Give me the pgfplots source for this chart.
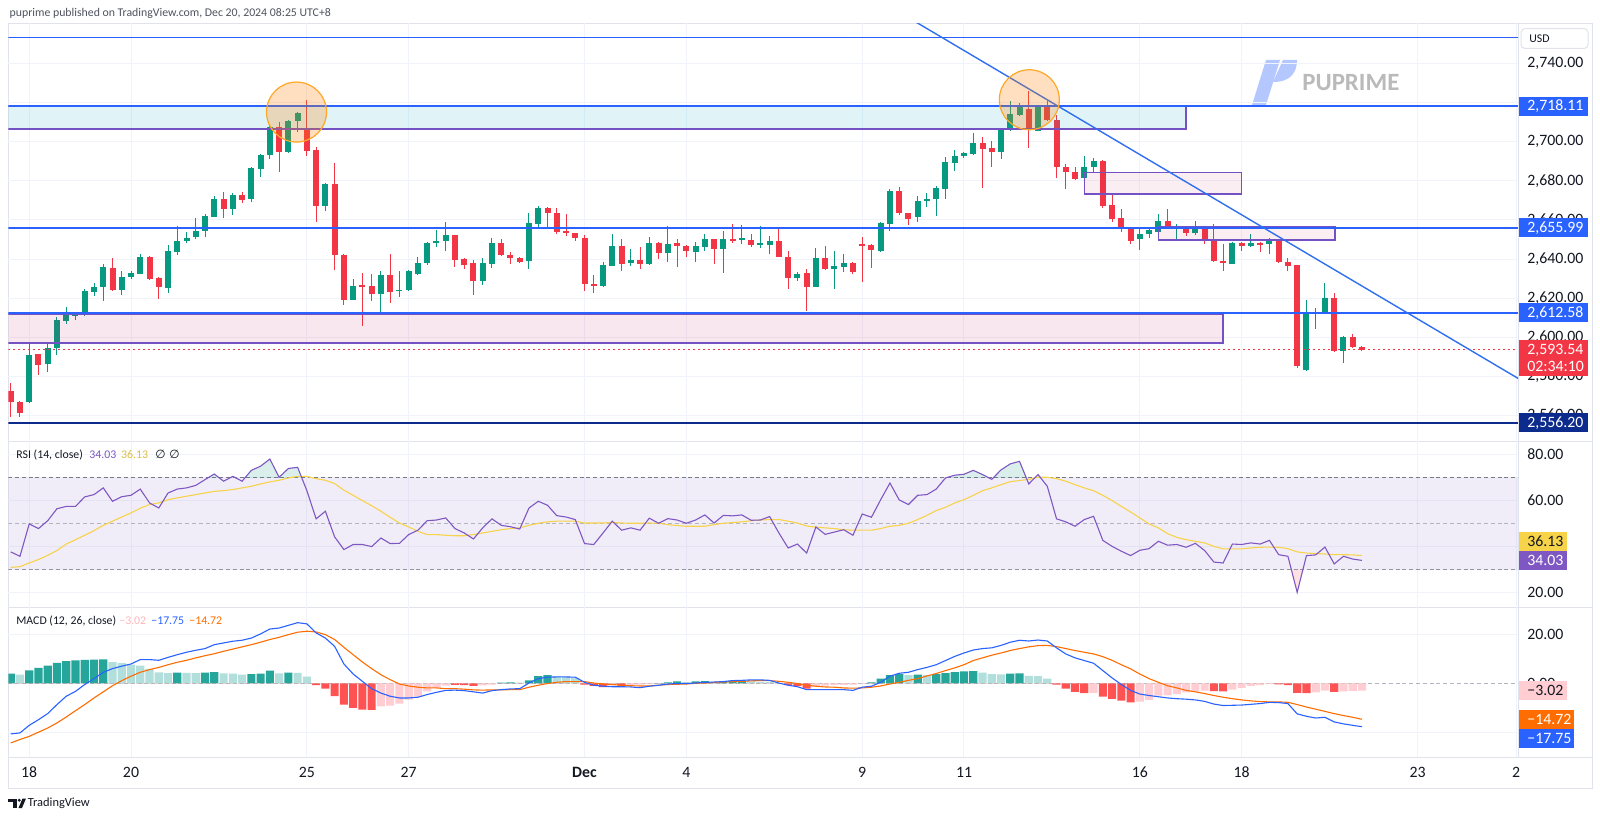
\documentclass[border=0pt]{standalone}
\usepackage{pgfplots}
\pgfplotsset{compat=1.18}
\usepackage{pgfplotstable}
\usepackage{fontspec}
\setmainfont{Carlito}
\newfontfamily\djv{DejaVu Sans}
\definecolor{upc}{HTML}{089981}
\definecolor{dnc}{HTML}{F23645}
\definecolor{hblue}{HTML}{2962FF}
\definecolor{tblue}{HTML}{2F6FF0}
\definecolor{purp}{HTML}{7552C4}
\definecolor{cyanc}{HTML}{00ACC1}
\definecolor{pinkc}{HTML}{C2185B}
\definecolor{navy}{HTML}{0D2B8C}
\definecolor{gridc}{HTML}{F0F3FA}
\definecolor{sepc}{HTML}{E0E3EB}
\definecolor{rsic}{HTML}{7E57C2}
\definecolor{rsima}{HTML}{F7D34A}
\definecolor{macdc}{HTML}{2962FF}
\definecolor{sigc}{HTML}{FF6D00}
\definecolor{hdark}{HTML}{26A69A}
\definecolor{hlight}{HTML}{B2DFDB}
\definecolor{hred}{HTML}{FF5252}
\definecolor{hpink}{HTML}{FFCDD2}
\definecolor{txt}{HTML}{131722}
\definecolor{txtg}{HTML}{50535E}
\definecolor{dash1}{HTML}{787B86}
\definecolor{dash2}{HTML}{B2B5BE}
\definecolor{orc}{HTML}{FFA726}
\newcommand\fA{\fontsize{7.9pt}{9pt}\selectfont}
\newcommand\fB{\fontsize{5.9pt}{7pt}\selectfont}

\pgfplotstableread{
i o h l c
1 2572.5 2576.4 2559.4 2567.0
2 2567.0 2567.5 2559.4 2561.4
3 2567.0 2596.9 2566.5 2591.2
4 2591.2 2591.5 2580.7 2586.0
5 2586.3 2596.9 2582.0 2594.3
6 2594.3 2610.5 2590.9 2608.8
7 2608.5 2615.6 2606.6 2612.2
8 2611.4 2612.2 2608.8 2611.9
9 2611.7 2624.5 2611.0 2623.6
10 2623.3 2627.6 2621.3 2625.5
11 2625.9 2637.5 2618.7 2635.7
12 2635.7 2640.4 2623.8 2624.2
13 2624.2 2634.0 2621.6 2631.0
14 2630.6 2634.0 2629.8 2632.7
15 2632.5 2642.6 2632.3 2641.2
16 2641.2 2641.7 2629.3 2629.8
17 2630.1 2630.6 2619.5 2625.5
18 2625.3 2647.2 2622.4 2643.9
19 2643.8 2657.1 2642.1 2649.2
20 2649.2 2653.8 2648.4 2650.6
21 2651.4 2660.8 2650.1 2654.5
22 2654.5 2663.0 2651.4 2662.3
23 2661.7 2672.4 2661.3 2670.7
24 2670.7 2674.5 2661.2 2665.8
25 2665.8 2673.9 2662.5 2672.9
26 2672.7 2674.1 2668.8 2670.2
27 2670.5 2686.9 2669.3 2686.4
28 2686.2 2693.7 2682.1 2693.4
29 2693.2 2708.5 2691.0 2707.7
30 2707.7 2710.3 2684.7 2694.9
31 2694.6 2711.1 2694.1 2710.8
32 2710.8 2715.4 2705.1 2714.5
33 2706.3 2721.3 2692.7 2695.4
34 2695.8 2697.1 2658.8 2667.3
35 2667.3 2678.7 2664.7 2678.4
36 2678.4 2688.9 2634.4 2642.1
37 2642.1 2642.4 2616.5 2619.0
38 2619.0 2629.8 2619.0 2626.2
39 2626.9 2633.0 2605.7 2625.7
40 2626.2 2632.3 2618.5 2622.1
41 2622.1 2633.9 2611.4 2631.8
42 2631.8 2642.6 2617.3 2623.3
43 2623.8 2633.9 2620.4 2624.3
44 2624.2 2634.4 2623.6 2633.9
45 2632.2 2641.2 2631.8 2638.1
46 2637.8 2648.9 2637.0 2648.4
47 2648.4 2654.8 2646.3 2649.2
48 2649.2 2659.1 2644.3 2652.1
49 2652.1 2652.5 2636.1 2639.5
50 2639.8 2640.4 2634.7 2636.8
51 2637.8 2639.5 2621.6 2628.8
52 2628.9 2640.4 2626.7 2637.8
53 2637.5 2650.6 2635.7 2648.4
54 2648.4 2650.1 2641.6 2642.1
55 2642.1 2643.8 2637.5 2640.7
56 2640.7 2641.0 2638.2 2638.5
57 2639.2 2663.4 2634.7 2658.3
58 2657.9 2667.3 2655.7 2666.3
59 2666.3 2666.8 2655.7 2663.4
60 2663.4 2665.9 2652.8 2654.0
61 2654.2 2663.0 2651.9 2653.1
62 2653.1 2653.6 2649.4 2650.9
63 2650.9 2652.3 2623.6 2627.2
64 2627.4 2631.8 2622.8 2626.4
65 2626.2 2638.6 2625.9 2636.8
66 2636.6 2652.6 2636.4 2646.7
67 2646.7 2650.2 2634.0 2637.6
68 2638.1 2645.0 2636.6 2639.5
69 2639.5 2646.0 2634.7 2637.5
70 2637.5 2651.1 2637.0 2648.0
71 2648.0 2648.9 2640.0 2643.3
72 2643.3 2657.1 2638.6 2647.7
73 2648.0 2650.1 2636.1 2646.7
74 2646.7 2647.2 2641.2 2644.1
75 2643.8 2648.9 2638.6 2646.7
76 2646.3 2652.6 2644.3 2650.2
77 2650.2 2650.4 2637.5 2645.1
78 2645.1 2654.3 2633.0 2650.2
79 2650.2 2657.7 2648.4 2649.7
80 2649.6 2657.4 2647.9 2650.6
81 2649.7 2652.6 2646.3 2647.2
82 2647.7 2657.1 2645.5 2647.9
83 2647.2 2651.8 2642.6 2649.2
84 2649.2 2655.2 2640.9 2641.2
85 2640.9 2644.1 2624.5 2630.5
86 2630.5 2633.5 2628.9 2632.2
87 2632.7 2634.7 2613.6 2625.9
88 2625.9 2645.5 2625.5 2640.4
89 2640.4 2646.7 2634.4 2634.9
90 2634.9 2644.3 2624.8 2636.4
91 2636.1 2642.6 2633.5 2638.1
92 2638.1 2638.6 2632.3 2633.5
93 2647.5 2651.1 2628.4 2647.0
94 2647.0 2647.5 2635.7 2644.6
95 2644.1 2659.1 2643.8 2658.3
96 2657.9 2675.6 2654.5 2674.8
97 2674.8 2677.0 2662.5 2663.4
98 2663.4 2663.5 2657.4 2660.5
99 2661.7 2672.2 2658.8 2669.8
100 2669.8 2673.9 2666.4 2670.7
101 2670.5 2677.4 2662.0 2676.2
102 2676.0 2692.0 2670.5 2689.5
103 2688.9 2695.8 2685.0 2692.9
104 2692.9 2694.6 2691.5 2694.4
105 2693.7 2704.6 2693.5 2699.2
106 2699.2 2702.6 2676.5 2696.4
107 2696.9 2700.4 2686.9 2694.7
108 2694.7 2706.5 2691.0 2706.0
109 2706.0 2720.8 2705.7 2714.0
110 2713.7 2719.6 2713.2 2717.9
111 2716.6 2725.9 2697.0 2706.0
112 2705.7 2718.3 2705.5 2717.9
113 2717.9 2720.8 2710.6 2711.1
114 2711.1 2713.7 2681.6 2687.2
115 2686.9 2688.4 2675.8 2684.3
116 2684.3 2686.9 2680.4 2680.9
117 2681.3 2692.9 2681.3 2687.2
118 2687.2 2691.5 2684.7 2690.1
119 2690.1 2690.6 2666.3 2667.3
120 2667.6 2672.7 2658.8 2660.5
121 2660.8 2665.4 2654.0 2655.2
122 2655.2 2656.0 2647.5 2649.4
123 2650.2 2656.5 2644.6 2652.8
124 2652.8 2656.5 2650.9 2654.8
125 2654.0 2662.9 2654.0 2659.4
126 2659.4 2665.4 2655.2 2655.7
127 2655.7 2657.7 2649.2 2656.0
128 2656.2 2656.5 2651.9 2653.1
129 2653.1 2659.4 2652.3 2656.2
130 2656.5 2657.1 2647.7 2650.2
131 2649.7 2657.9 2638.6 2639.0
132 2639.0 2647.5 2634.0 2637.8
133 2637.5 2648.9 2637.3 2648.0
134 2648.0 2648.5 2644.3 2646.8
135 2646.8 2652.6 2646.0 2648.4
136 2648.4 2648.9 2643.4 2647.5
137 2647.5 2650.6 2642.6 2649.4
138 2649.7 2650.2 2637.8 2638.3
139 2638.6 2640.7 2634.0 2636.6
140 2636.9 2637.0 2584.1 2585.4
141 2583.2 2619.0 2582.9 2613.1
142 2612.6 2614.8 2604.0 2613.1
143 2613.1 2627.6 2612.9 2620.2
144 2620.2 2622.4 2592.3 2593.0
145 2593.0 2600.6 2587.0 2600.3
146 2600.3 2601.5 2594.3 2594.8
147 2594.8 2595.3 2592.8 2593.5
}\candles

\pgfplotstableread{
i r ma m s h k
1 37.7 31.0 -20.7 -24.4 4.0 1
2 35.8 31.3 -20.3 -23.0 3.5 2
3 49.8 32.9 -17.2 -21.7 5.3 1
4 47.8 34.4 -14.9 -20.0 6.3 1
5 51.2 36.2 -12.4 -18.3 7.2 1
6 56.4 38.3 -8.7 -16.2 8.3 1
7 57.4 41.1 -5.3 -13.8 9.1 1
8 57.4 43.0 -3.3 -11.2 9.4 1
9 61.5 44.9 -0.5 -8.7 9.6 1
10 62.5 46.9 1.9 -6.0 9.7 1
11 65.4 49.2 4.5 -3.5 9.8 1
12 59.6 51.0 6.0 -1.0 8.7 2
13 61.6 52.8 7.0 1.1 8.2 2
14 62.2 54.6 7.9 2.9 7.6 2
15 64.9 56.6 9.7 4.5 7.2 2
16 58.9 58.2 9.7 5.6 5.9 2
17 56.7 58.9 9.4 6.5 4.5 2
18 63.2 60.3 10.6 7.6 4.2 2
19 64.9 61.1 11.7 8.6 4.4 1
20 65.4 61.8 12.7 9.4 4.3 2
21 66.5 62.5 13.5 10.4 4.2 2
22 69.0 63.2 14.2 11.3 4.4 1
23 71.4 63.9 15.8 12.1 4.6 1
24 68.3 64.2 16.5 13.1 4.1 2
25 70.4 64.7 17.2 14.0 4.0 2
26 68.3 65.4 17.6 14.9 3.5 2
27 73.0 66.1 18.5 15.8 3.7 1
28 74.8 67.1 20.2 16.8 4.0 1
29 77.9 68.0 22.2 17.9 5.2 1
30 70.0 68.7 22.6 18.8 4.1 2
31 73.8 69.7 23.7 19.9 4.4 1
32 74.3 70.4 24.8 20.9 4.3 2
33 64.2 70.4 24.3 21.3 2.7 2
34 52.0 69.4 20.6 21.0 -0.8 3
35 55.3 68.7 18.5 19.9 -2.2 3
36 44.2 67.3 15.1 17.9 -5.3 3
37 38.7 64.4 7.9 14.7 -8.7 3
38 40.9 62.2 3.8 11.7 -10.1 3
39 40.9 59.9 0.8 8.7 -10.8 3
40 40.0 57.7 -2.2 6.0 -10.9 3
41 43.7 55.3 -4.0 3.5 -9.4 4
42 41.3 52.7 -5.3 1.5 -9.1 4
43 41.4 50.2 -6.0 -0.3 -8.3 4
44 45.2 48.5 -6.0 -1.1 -6.7 4
45 47.1 46.6 -5.7 -1.6 -5.5 4
46 51.2 45.2 -4.6 -1.9 -3.3 4
47 51.5 45.2 -3.7 -1.9 -1.9 4
48 52.4 44.9 -2.9 -2.2 -1.0 4
49 47.8 44.7 -2.8 -2.2 -0.6 3
50 45.9 44.7 -3.0 -2.4 -0.8 3
51 43.3 45.2 -3.5 -2.7 -1.1 3
52 48.1 45.9 -4.0 -2.8 -0.9 4
53 52.0 46.6 -3.0 -2.7 -0.5 4
54 49.2 47.3 -2.6 -2.7 0.3 1
55 48.6 47.8 -2.3 -2.6 0.4 1
56 47.6 48.1 -2.2 -2.6 0.3 2
57 56.7 49.2 0.1 -1.6 1.2 1
58 59.6 50.1 1.9 -0.8 2.9 1
59 57.9 50.7 2.5 -0.1 3.3 1
60 53.4 51.0 2.6 0.4 2.7 2
61 52.8 51.0 2.6 0.7 2.6 2
62 51.7 51.0 2.5 0.7 2.2 2
63 41.3 50.2 0.4 0.7 -0.5 3
64 40.9 50.2 -0.8 0.1 -1.1 3
65 45.9 50.2 -1.2 -0.3 -1.6 3
66 51.0 50.5 -1.4 -0.5 -0.9 4
67 47.1 50.2 -1.4 -0.8 -1.2 3
68 48.1 50.1 -1.5 -1.0 -0.7 4
69 47.1 50.1 -1.8 -1.1 -0.5 4
70 52.3 50.2 -1.2 -1.1 -0.3 4
71 50.1 50.1 -0.8 -0.8 0.1 1
72 52.1 49.5 -0.3 -0.5 0.4 1
73 51.5 49.1 -0.1 -0.4 0.8 1
74 50.1 48.8 -0.1 -0.3 0.5 2
75 51.5 48.8 0.1 0.0 0.8 1
76 53.7 48.8 0.4 0.1 0.9 1
77 50.2 49.5 0.5 0.4 0.6 2
78 53.5 50.1 0.7 0.5 0.9 1
79 53.3 50.4 1.1 0.7 1.0 1
80 53.7 50.7 1.2 0.8 1.1 1
81 51.4 51.2 1.4 1.0 0.8 2
82 51.5 51.5 1.4 1.1 0.6 2
83 53.0 51.7 1.2 1.1 0.5 2
84 45.9 51.7 0.1 0.8 0.1 2
85 39.4 51.0 -0.8 0.4 -0.8 3
86 41.1 50.2 -1.4 -0.1 -1.2 3
87 37.2 48.9 -2.6 -0.8 -2.2 3
88 48.5 48.4 -2.6 -1.2 -1.4 4
89 45.3 48.1 -2.6 -1.5 -1.0 4
90 46.3 47.8 -2.6 -1.6 -0.8 4
91 47.3 47.3 -2.6 -1.9 -0.6 4
92 44.9 47.1 -2.9 -2.0 -0.5 4
93 54.1 47.1 -1.6 -1.9 -0.1 4
94 52.7 47.1 -1.2 -1.6 0.4 1
95 60.3 47.8 0.4 -1.1 1.9 1
96 67.5 48.8 2.9 -0.3 3.3 1
97 60.2 49.2 4.1 0.4 3.8 1
98 58.2 50.1 4.5 1.2 3.3 2
99 62.2 51.7 5.6 1.9 3.5 1
100 62.5 53.5 6.5 3.0 3.3 2
101 64.9 55.6 7.6 4.0 3.7 1
102 69.7 57.0 9.3 5.2 4.2 1
103 70.9 58.9 11.0 6.3 4.6 1
104 71.3 60.3 12.4 7.6 4.9 1
105 73.0 62.2 13.6 9.3 5.0 1
106 71.2 64.2 14.2 10.4 4.4 2
107 69.1 65.4 14.5 11.5 3.7 2
108 73.2 66.8 15.5 12.4 3.6 2
109 75.8 68.1 16.8 13.4 4.0 1
110 76.9 68.6 17.6 14.2 4.1 1
111 67.1 69.1 17.3 14.9 3.0 2
112 71.2 70.0 17.7 15.4 2.9 2
113 66.1 70.0 17.3 15.5 1.9 2
114 52.0 69.4 14.5 15.0 -0.5 3
115 50.7 68.3 12.0 14.2 -2.2 3
116 48.8 66.8 10.4 13.4 -3.5 3
117 51.7 65.4 9.3 12.7 -4.0 3
118 53.1 64.2 8.2 12.0 -3.9 4
119 42.7 62.2 5.2 10.9 -5.5 3
120 40.1 59.9 2.2 9.4 -6.4 3
121 38.0 57.4 -0.5 7.6 -7.1 3
122 36.1 55.0 -2.9 5.9 -7.8 3
123 38.4 52.4 -4.4 3.8 -7.5 4
124 39.1 49.8 -5.0 1.9 -6.8 4
125 42.3 48.1 -5.5 0.4 -5.0 4
126 40.6 45.6 -6.0 -1.0 -4.9 4
127 40.9 44.0 -6.3 -1.9 -4.4 4
128 39.7 43.0 -6.5 -2.9 -3.7 4
129 41.4 42.3 -6.8 -3.5 -3.3 4
130 38.3 41.6 -7.4 -4.2 -3.0 4
131 33.3 40.1 -8.5 -5.0 -3.2 3
132 32.9 39.0 -9.1 -5.7 -3.3 3
133 41.1 39.0 -9.0 -6.3 -2.6 4
134 40.9 39.0 -8.9 -6.8 -1.9 4
135 41.6 39.4 -8.6 -7.2 -1.1 4
136 41.1 39.7 -8.3 -7.5 -0.8 4
137 42.7 39.8 -7.8 -7.6 -0.3 4
138 36.5 39.7 -7.9 -7.6 -0.4 3
139 35.8 39.1 -8.3 -7.8 -0.7 3
140 20.2 37.7 -12.5 -8.7 -3.9 3
141 36.1 37.2 -13.5 -9.7 -4.0 3
142 36.4 37.0 -14.2 -10.6 -3.7 4
143 39.8 36.8 -13.9 -11.5 -3.0 4
144 32.5 36.5 -15.8 -12.4 -3.5 3
145 35.8 36.5 -16.6 -13.2 -3.3 4
146 34.6 36.4 -17.2 -13.9 -3.1 4
147 34.03 36.13 -17.75 -14.72 -3.02 4
}\ind

\pgfplotsset{
  tvpane/.style={
    scale only axis, width=754.85pt, anchor=south west,
    xmin=0.74, xmax=163.86,
    axis line style={draw=none},
    major tick length=0pt, tick style={draw=none},
    xticklabels={}, yticklabels={},
    xtick={3,14,33,44,63,74,93,104,123,134,153,163.65},
    grid=major, major grid style={draw=gridc, line width=0.5pt},
  },
  candle/.style={only marks, mark=*, mark size=0pt, mark options={draw=none, fill=none}, forget plot,
    error bars/.cd, y dir=both, y explicit, error mark=none},
}

\begin{document}
\begin{tikzpicture}
\path[use as bounding box] (0,0) rectangle (800pt,409.5pt);
\fill[white] (0,0) rectangle (800pt,409.5pt);

\begin{scope}[x=0.5pt,y=-0.5pt,shift={(0pt,409.5pt)}]
  \draw[sepc, line width=0.5pt] (8.3,23.3) rectangle (1592,788);
  \draw[sepc, line width=0.5pt] (8.3,441.3) -- (1592,441.3);
  \draw[sepc, line width=0.5pt] (8.3,607.3) -- (1592,607.3);
  \draw[sepc, line width=0.5pt] (8.3,757) -- (1592,757);
  \draw[sepc, line width=0.5pt] (1518,23.3) -- (1518,757);
  % watermark
  \fill[hblue!35] (1252,105) -- (1266,105) -- (1280,60) -- (1266,60) -- cycle;
  \fill[hblue!35] (1283,60) -- (1297,60) .. controls (1297,72) and (1291,82) .. (1273,82) -- cycle;
  \node[anchor=west, inner sep=0pt, font=\bfseries\fontsize{12.4pt}{14pt}\selectfont, text=black!27] at (1302,83) {PUPRIME};
\end{scope}

% ---------------- price pane
\begin{axis}[tvpane, at={(4.15pt,188.85pt)}, height=209pt,
  ymin=2546.8, ymax=2760.6, ytick={2560,2580,...,2740}]
  \addplot[candle, error bar style={draw=upc, line width=0.5pt}]
    table[x=i, y expr={(\thisrow{h}+\thisrow{l})/2},
      y error expr={(\thisrow{c}>=\thisrow{o}) ? (\thisrow{h}-\thisrow{l})/2 : 0}]{\candles};
  \addplot[candle, error bar style={draw=dnc, line width=0.5pt}]
    table[x=i, y expr={(\thisrow{h}+\thisrow{l})/2},
      y error expr={(\thisrow{c}<\thisrow{o}) ? (\thisrow{h}-\thisrow{l})/2 : 0}]{\candles};
  \addplot[candle, error bar style={draw=upc, line width=3pt}]
    table[x=i, y expr={(\thisrow{o}+\thisrow{c})/2},
      y error expr={(\thisrow{c}>=\thisrow{o}) ? max(abs(\thisrow{c}-\thisrow{o})/2,0.3) : 0}]{\candles};
  \addplot[candle, error bar style={draw=dnc, line width=3pt}]
    table[x=i, y expr={(\thisrow{o}+\thisrow{c})/2},
      y error expr={(\thisrow{c}<\thisrow{o}) ? max(abs(\thisrow{c}-\thisrow{o})/2,0.3) : 0}]{\candles};
  % boxes
  \fill[cyanc, fill opacity=0.12] (axis cs:0.74,2706.5) rectangle (axis cs:128,2718.1);
  \draw[purp, line width=0.75pt] (axis cs:0.74,2718.1) -- (axis cs:128,2718.1) -- (axis cs:128,2706.5) -- (axis cs:0.74,2706.5);
  \fill[pinkc, fill opacity=0.10] (axis cs:0.74,2597.2) rectangle (axis cs:132,2611.9);
  \draw[purp, line width=0.75pt] (axis cs:0.74,2611.9) -- (axis cs:132,2611.9) -- (axis cs:132,2597.2) -- (axis cs:0.74,2597.2);
  \draw[purp, line width=0.75pt, fill=pinkc, fill opacity=0.07] (axis cs:117,2673.4) rectangle (axis cs:134,2684.4);
  \draw[purp, line width=0.75pt, fill=pinkc, fill opacity=0.07] (axis cs:125,2649.8) rectangle (axis cs:144.1,2656.4);
  % horizontal lines
  \draw[dnc, line width=0.5pt, dash pattern=on 1pt off 1.5pt] (axis cs:0.74,2593.54) -- (axis cs:163.86,2593.54);
  \draw[hblue, line width=0.8pt] (axis cs:0.74,2753.4) -- (axis cs:163.86,2753.4);
  \draw[hblue, line width=0.9pt] (axis cs:0.74,2718.11) -- (axis cs:163.86,2718.11);
  \draw[hblue, line width=0.9pt] (axis cs:0.74,2655.99) -- (axis cs:163.86,2655.99);
  \draw[hblue, line width=0.9pt] (axis cs:0.74,2612.58) -- (axis cs:163.86,2612.58);
  \draw[navy, line width=0.9pt] (axis cs:0.74,2556.2) -- (axis cs:163.86,2556.2);
  % trend line
  \draw[tblue, line width=0.7pt] (axis cs:90,2785.9) -- (axis cs:165,2575.8);
  % circles
  \draw[orc, line width=0.6pt, fill=orange, fill opacity=0.25] (axis cs:31.88,2715.2) circle[radius=15pt];
  \draw[orc, line width=0.6pt, fill=orange, fill opacity=0.25] (axis cs:111.06,2721.5) circle[radius=15pt];
\end{axis}

% ---------------- RSI pane
\begin{axis}[tvpane, at={(4.15pt,105.85pt)}, height=83pt,
  ymin=13.72, ymax=85.58, ytick={20,40,60,80}]
  \fill[rsic, fill opacity=0.1] (axis cs:0.74,30) rectangle (axis cs:163.86,70);
  \draw[dash1, line width=0.5pt, dash pattern=on 2pt off 1.4pt] (axis cs:0.74,70) -- (axis cs:163.86,70);
  \draw[dash2, line width=0.5pt, dash pattern=on 2pt off 1.4pt] (axis cs:0.74,50) -- (axis cs:163.86,50);
  \draw[dash1!80, line width=0.5pt, dash pattern=on 2pt off 1.4pt] (axis cs:0.74,30) -- (axis cs:163.86,30);
  \begin{scope}
    \clip (axis cs:0.74,70) rectangle (axis cs:163.86,90);
    \addplot[fill=upc, fill opacity=0.15, draw=none, forget plot] table[x=i,y=r]{\ind} \closedcycle;
  \end{scope}
  \addplot[fill=dnc, fill opacity=0.15, draw=none, forget plot] coordinates {(139.37,30) (140,20.2) (140.62,30)};
  \addplot[rsima, line width=0.55pt, forget plot] table[x=i,y=ma]{\ind};
  \addplot[rsic, line width=0.55pt, forget plot] table[x=i,y=r]{\ind};
\end{axis}

% ---------------- MACD pane
\begin{axis}[tvpane, at={(4.15pt,31pt)}, height=74.85pt,
  ymin=-30.15, ymax=31.08, ytick={-20,20}]
  \draw[dash2, line width=0.5pt, dash pattern=on 2pt off 1.4pt] (axis cs:0.74,0) -- (axis cs:163.86,0);
  \addplot[ybar, bar width=0.88, bar shift=0pt, draw=none, fill=hdark, forget plot]
    table[x=i, y expr={(\thisrow{k}==1) ? \thisrow{h} : 0}]{\ind};
  \addplot[ybar, bar width=0.88, bar shift=0pt, draw=none, fill=hlight, forget plot]
    table[x=i, y expr={(\thisrow{k}==2) ? \thisrow{h} : 0}]{\ind};
  \addplot[ybar, bar width=0.88, bar shift=0pt, draw=none, fill=hred, forget plot]
    table[x=i, y expr={(\thisrow{k}==3) ? \thisrow{h} : 0}]{\ind};
  \addplot[ybar, bar width=0.88, bar shift=0pt, draw=none, fill=hpink, forget plot]
    table[x=i, y expr={(\thisrow{k}==4) ? \thisrow{h} : 0}]{\ind};
  \addplot[sigc, line width=0.55pt, forget plot] table[x=i,y=s]{\ind};
  \addplot[macdc, line width=0.55pt, forget plot] table[x=i,y=m]{\ind};
\end{axis}

% ---------------- labels
\begin{scope}[x=0.5pt,y=-0.5pt,shift={(0pt,409.5pt)}]
  \tikzset{lab/.style={anchor=west, inner sep=0pt, font=\fA, text=txt}}
  \node[anchor=west, inner sep=0pt, font=\fB, text=txtg] at (9.3,13.3) {puprime published on TradingView.com, Dec 20, 2024 08:25 UTC+8};
  \draw[sepc, fill=white, rounded corners=2pt, line width=0.5pt] (1521,28.6) rectangle (1588,48.5);
  \node[anchor=west, inner sep=0pt, font=\fB, text=txt] at (1529,38.6) {USD};
  \foreach \v/\y in {2{,}740.00/63.6, 2{,}700.00/141.8, 2{,}680.00/180.9, 2{,}660.00/220.0, 2{,}640.00/259.1, 2{,}620.00/298.2, 2{,}600.00/337.3, 2{,}580.00/376.4, 2{,}560.00/415.5}
    \node[lab] at (1527,\y) {\v};
  \foreach \v/\y in {80.00/454.2, 60.00/500.4, 20.00/592.8}
    \node[lab] at (1527,\y) {\v};
  \foreach \v/\y in {20.00/634.4, 0.00/683.3}
    \node[lab] at (1527,\y) {\v};
  \fill[hblue] (1519,96.9) rectangle (1588,115.9);
  \node[lab, text=white] at (1527,106.4) {2,718.11};
  \fill[hblue] (1519,218.3) rectangle (1588,237.3);
  \node[lab, text=white] at (1527,227.8) {2,655.99};
  \fill[hblue] (1519,303.2) rectangle (1588,322.2);
  \node[lab, text=white] at (1527,312.7) {2,612.58};
  \fill[dnc] (1519,340.2) rectangle (1588,375.6);
  \node[lab, text=white] at (1527,349.9) {2,593.54};
  \node[lab, text=white] at (1527,366.4) {02:34:10};
  \fill[navy] (1519,413.4) rectangle (1588,432.4);
  \node[lab, text=white] at (1527,422.9) {2,556.20};
  \fill[rsima] (1519,532) rectangle (1567,551);
  \node[lab] at (1527,541.5) {36.13};
  \fill[rsic] (1519,551) rectangle (1567,570);
  \node[lab, text=white] at (1527,560.4) {34.03};
  \fill[hpink] (1519,681.2) rectangle (1567,700.2);
  \node[lab] at (1527,690.7) {−3.02};
  \fill[sigc] (1519,709.8) rectangle (1574,728.8);
  \node[lab, text=white] at (1527,719.3) {−14.72};
  \fill[macdc] (1519,728.8) rectangle (1574,747.8);
  \node[lab, text=white] at (1527,738.3) {−17.75};
  \tikzset{leg/.style={anchor=west, inner sep=0pt, font=\fB}}
  \node[leg, text=txt] at (16,454.7) {RSI (14, close)};
  \node[leg, text=rsic] at (89,454.7) {34.03};
  \node[leg, text=rsima!90!black] at (120.7,454.7) {36.13};
  \node[leg, text=txt] at (155,454.7) {\djv ∅};
  \node[leg, text=txt] at (169,454.7) {\djv ∅};
  \node[leg, text=txt] at (16,620.7) {MACD (12, 26, close)};
  \node[leg, text=hpink!85!dnc] at (119,620.7) {−3.02};
  \node[leg, text=macdc] at (151,620.7) {−17.75};
  \node[leg, text=sigc] at (189,620.7) {−14.72};
  \foreach \v/\x in {18/29.2, 20/131.0, 25/306.9, 27/408.7, 4/686.3, 9/862.2, 11/964.0, 16/1139.8, 18/1241.6, 23/1417.5, 2/1516.0}
    \node[inner sep=0pt, font=\fA, text=txt] at (\x,772.5) {\v};
  \node[inner sep=0pt, font=\fA\bfseries, text=txt] at (584.5,772.5) {Dec};
  \fill[txt] (8,798.5) rectangle (16.5,801.5);
  \fill[txt] (13,798.5) rectangle (16.5,808);
  \fill[txt] (19.2,800.2) circle[radius=1.6];
  \fill[txt] (18.5,808) -- (22.5,798.5) -- (26,798.5) -- (22,808) -- cycle;
  \node[anchor=west, inner sep=0pt, font=\fontsize{6.2pt}{7pt}\selectfont, text=txt] at (27.5,803.3) {TradingView};
\end{scope}
\end{tikzpicture}
\end{document}
